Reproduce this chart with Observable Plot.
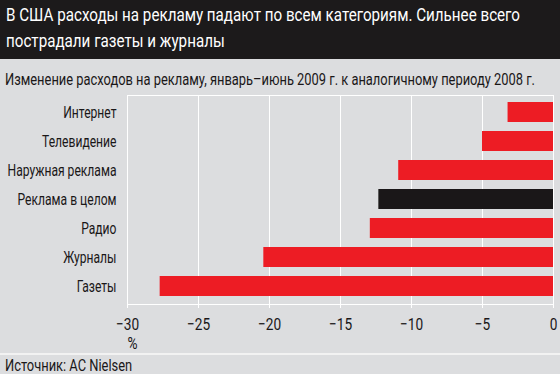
<!DOCTYPE html>
<html>
<head>
<meta charset="utf-8">
<script src="https://cdn.jsdelivr.net/npm/d3@7"></script>
<script src="https://cdn.jsdelivr.net/npm/@observablehq/plot@0.6"></script>
<style>
  html, body { margin: 0; padding: 0; }
  body { width: 560px; height: 374px; background: #dcdddf; position: relative; overflow: hidden;
         font-family: "Roboto", "Liberation Sans", sans-serif; color: #1a1718; }
  #header { position: absolute; left: 0; top: 0; width: 560px; height: 59px; background: #1c1a1b; }
  #title { position: absolute; left: 6px; top: 2px; color: #ffffff; font-size: 19px; line-height: 26px; }
  .line { display: block; white-space: nowrap; transform-origin: 0 50%; width: max-content; }
  #subtitle { position: absolute; left: 5px; top: 71.5px; font-size: 16px; line-height: 16px; }
  #chart { position: absolute; left: 0; top: 88px; }
  #sep { position: absolute; left: 0; top: 352.5px; width: 560px; height: 2px; background: #f2f2f2; }
  #source { position: absolute; left: 5px; top: 357.5px; font-size: 16px; line-height: 16px; }
</style>
</head>
<body>
<div id="header"><div id="title"><span class="line" id="t1">В США расходы на рекламу падают по всем категориям. Сильнее всего</span><span class="line" id="t2">пострадали газеты и журналы</span></div></div>
<div id="subtitle"><span class="line" id="sub">Изменение расходов на рекламу, январь–июнь 2009 г. к аналогичному периоду 2008 г.</span></div>
<div id="chart"></div>
<div id="sep"></div>
<div id="source"><span class="line" id="src">Источник: AC Nielsen</span></div>
<script>
const categories = ["Интернет", "Телевидение", "Наружная реклама", "Реклама в целом", "Радио", "Журналы", "Газеты"];
const values = [-3.2, -5.0, -10.9, -12.3, -12.9, -20.4, -27.7];
const highlight = "Реклама в целом";
const xTicks = [-30, -25, -20, -15, -10, -5, 0];
const unitLabel = "%";

const data = categories.map((c, i) => ({category: c, value: values[i]}));

const chart = Plot.plot({
  width: 560,
  height: 265,
  marginTop: 7,
  marginBottom: 49,
  marginLeft: 127,
  marginRight: 7,
  style: {background: "transparent", fontFamily: "Roboto, 'Liberation Sans', sans-serif", color: "#1a1718"},
  x: {domain: [-30, 0], ticks: xTicks, label: null},
  y: {domain: categories, paddingInner: 0.3, paddingOuter: 0.15, label: null},
  marks: [
    Plot.gridX(xTicks, {stroke: "#ffffff", strokeOpacity: 1, strokeWidth: 1}),
    Plot.frame({stroke: "#ffffff", strokeWidth: 1}),
    Plot.axisX({ticks: xTicks, tickSize: 4, tickPadding: 9, stroke: "#ffffff", fontSize: 17, label: null, tickFormat: d => d === 0 ? "0" : "\u2212" + Math.abs(d)}),
    Plot.axisY({tickSize: 0, tickPadding: 11, fontSize: 16, label: null}),
    Plot.barX(data, {x1: 0, x2: "value", y: "category", fill: d => d.category === highlight ? "#1a1718" : "#ed1c24"}),
    Plot.text([unitLabel], {frameAnchor: "bottom-left", text: d => d, textAnchor: "start", lineAnchor: "bottom", dy: 44, fontSize: 17, fill: "#1a1718"})
  ]
});
document.getElementById("chart").appendChild(chart);

// Condense the sans font horizontally to imitate the narrow typeface of the original
const t1 = document.getElementById("t1");
const kt = 514 / t1.getBoundingClientRect().width;
t1.style.transform = `scaleX(${kt})`;
document.getElementById("t2").style.transform = `scaleX(${kt})`;
const sub = document.getElementById("sub");
const k = 530 / sub.getBoundingClientRect().width;
sub.style.transform = `scaleX(${k})`;
document.getElementById("src").style.transform = `scaleX(${k})`;
chart.querySelectorAll("text").forEach(t => {
  const isY = t.parentNode && (t.parentNode.getAttribute("aria-label") || "").startsWith("y-axis");
  const s = isY ? k * 0.94 : k;
  let tr = t.getAttribute("transform") || "";
  const xa = t.getAttribute("x");
  if (xa !== null && !isNaN(+xa)) {
    tr += ` translate(${+xa},0)`;
    t.removeAttribute("x");
  }
  t.setAttribute("transform", `${tr} scale(${s},1)`);
});
</script>
</body>
</html>
